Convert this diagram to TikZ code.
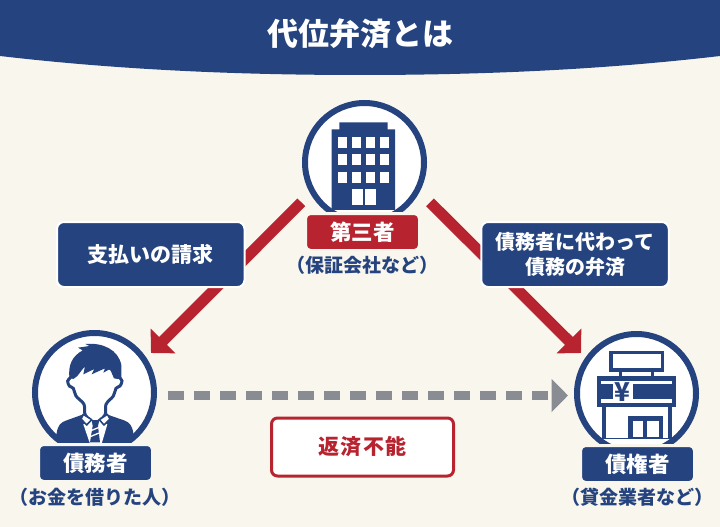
\documentclass[tikz,border=0pt]{standalone}
\usepackage{fontspec}
\setmainfont{Noto Sans CJK JP}
\usetikzlibrary{arrows.meta}
\definecolor{navy}{HTML}{25447F}
\definecolor{crimson}{HTML}{B72430}
\definecolor{paper}{HTML}{F9F6EE}
\definecolor{ash}{HTML}{8A8C93}
\newcommand{\bfs}[2]{\fontsize{#1}{#2}\selectfont\bfseries}
\tikzset{
  ring/.style={circle, draw=navy, fill=white, line width=6pt, minimum size=119pt, inner sep=0pt},
  tag/.style={rectangle, rounded corners=5pt, text=white, draw=paper, line width=3pt, minimum width=114pt, minimum height=37pt, inner sep=0pt, font=\bfs{21.5}{24}},
  sub/.style={text=navy, inner sep=0pt, font=\bfs{19}{22}},
  msg/.style={rectangle, rounded corners=7pt, fill=navy, draw=white, text=white, line width=2pt, minimum width=187.5pt, minimum height=65pt, inner sep=0pt, align=center, font=\bfs{20}{25}},
  arrowred/.style={crimson, line width=11pt, -{Triangle[length=17pt,width=34pt]}},
  arrowgray/.style={ash, line width=9.5pt, dash pattern=on 16pt off 10pt, -{Triangle[length=16.5pt,width=32.5pt]}},
}
\begin{document}
\begin{tikzpicture}[x=1pt, y=-1pt]
  \useasboundingbox (0,0) rectangle (720,527);
  \fill[paper] (0,0) rectangle (720,527);
  \fill[navy] (0,0) -- (720,0) -- (720,56) .. controls (600,70) and (480,75) .. (360,75) .. controls (240,75) and (120,70) .. (0,56) -- cycle;
  \node[text=white, inner sep=0pt, font=\bfs{31}{34}] (title) at (360.5,33.5) {代位弁済とは};

  \node[ring] (third) at (364.5,162.5) {};
  \node[ring] (debtor) at (94.5,392.5) {};
  \node[ring] (creditor) at (636.5,393.5) {};

  \coordinate (lstart) at (301.3,202.3);
  \coordinate (ltip) at (151,353);
  \coordinate (rstart) at (430,202.3);
  \coordinate (rtip) at (581,353);
  \coordinate (gstart) at (168.3,395.5);
  \coordinate (gtip) at (568,395.5);
  \draw[arrowred] (lstart) -- (ltip);
  \draw[arrowred] (rstart) -- (rtip);
  \draw[arrowgray] (gstart) -- (gtip);

  % building
  \begin{scope}[shift={(280,90)}, scale=1/3]
    \fill[navy] (155,360) -- (155,118) -- (178,118) -- (178,97) -- (323,97) -- (323,118) -- (345,118) -- (345,360) -- cycle;
    \foreach \wy in {142,192,245}
      \foreach \wx in {175,217,259,301}
        \fill[white] (\wx,\wy) rectangle ++(25,33);
    \fill[white] (215,297) rectangle (248,345);
    \fill[white] (255,297) rectangle (288,345);
  \end{scope}

  % person
  \begin{scope}[shift={(50,335)}, scale=1/3]
    \begin{scope}
      \clip (133.5,172.5) circle (180);
      \fill[navy] (12,330) -- (20,294) .. controls (24,270) and (32,262) .. (50,256) -- (100,238) -- (170,238) -- (222,256) .. controls (238,262) and (246,270) .. (250,294) -- (258,330) -- cycle;
    \end{scope}
    \draw[navy, fill=white, line width=3pt] plot[smooth cycle, tension=0.55] coordinates {(75,110) (62,127) (53,138) (58,153) (70,160) (78,183) (102,208) (106,240) (135,262) (165,240) (168,208) (190,183) (198,160) (210,153) (216,138) (208,127) (195,110) (135,80)};
    \fill[navy] (58,127) .. controls (55,90) and (65,65) .. (98,46) -- (84,38) -- (118,33) -- (106,27) .. controls (160,22) and (205,45) .. (214,90) -- (214,128) -- (204,132) -- (192,130) -- (180,102) -- (160,113) -- (165,100) -- (125,118) -- (133,102) -- (100,118) -- (105,93) -- (82,123) -- (70,132) -- cycle;
    \fill[white] (100,268) -- (120,326) -- (155,326) -- (172,268) -- (135,250) -- cycle;
    \draw[navy, fill=white, line width=1.6pt, line join=round] (100,238) -- (125,254) -- (110,270) -- (93,252) -- cycle;
    \draw[navy, fill=white, line width=1.6pt, line join=round] (172,238) -- (148,254) -- (162,270) -- (180,252) -- cycle;
    \fill[navy] (125,255) -- (148,255) -- (144,273) -- (150,322) -- (120,322) -- (128,273) -- cycle;
    \foreach \ty in {283,300}
      \draw[white, line width=1.3pt] (118,\ty+6) -- (152,\ty-8);
  \end{scope}

  % shop
  \begin{scope}[shift={(590,340)}, scale=1/3]
    \draw[navy, fill=white, line width=3.4pt] (62.5,37) rectangle (217,90);
    \fill[navy] (87,95) rectangle (97,108);
    \fill[navy] (183,95) rectangle (193,108);
    \fill[navy] (20,108) rectangle (258,202);
    \fill[white] (33,122) rectangle (245,133);
    \fill[white] (33,178) rectangle (245,190);
    \fill[white] (68,133) rectangle (130,178);
    \node[text=navy, inner sep=0pt, font=\bfs{26}{28}] (yen) at (98,155) {¥};
    \fill[navy] (35,202) rectangle (47,298);
    \fill[navy] (233,202) rectangle (245,298);
    \fill[navy] (115,228) rectangle (218,298);
    \fill[white] (128,242) rectangle (160,292);
    \fill[white] (172,242) rectangle (206,292);
    \fill[navy] (35,294) rectangle (245,298);
  \end{scope}

  \node[tag, fill=crimson] (thirdtag) at (362.5,232) {第三者};
  \node[tag, fill=navy] (debtortag) at (95.5,463) {債務者};
  \node[tag, fill=navy] (credtag) at (637.5,464) {債権者};
  \node[sub] (thirdsub) at (362.5,265.5) {（保証会社など）};
  \node[sub] (debtorsub) at (95,497) {（お金を借りた人）};
  \node[sub] (credsub) at (637,497) {（貸金業者など）};

  \node[msg] (payreq) at (150.75,254.5) {\fontsize{21}{25}\selectfont 支払いの請求};
  \node[msg] (subrog) at (575,254.5) {債務者に代わって\\債務の弁済};
  \node[rectangle, rounded corners=6pt, draw=crimson, fill=white, text=crimson, line width=3pt, minimum width=182pt, minimum height=58pt, inner sep=0pt, font=\bfs{21}{24}\addfontfeature{LetterSpace=5}] (fail) at (362.5,447) {返済不能};
\end{tikzpicture}
\end{document}
